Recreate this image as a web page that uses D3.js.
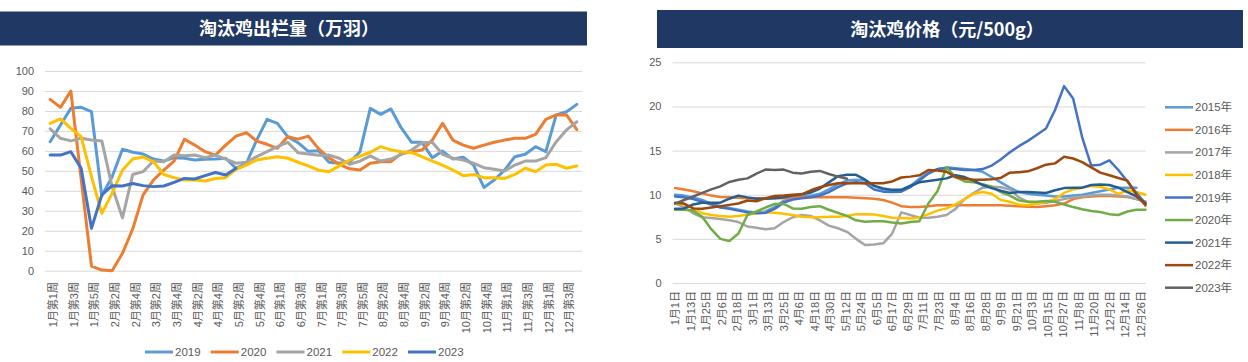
<!DOCTYPE html>
<html><head><meta charset="utf-8">
<script src="https://cdn.jsdelivr.net/npm/d3@7"></script>
<style>
html,body{margin:0;padding:0;background:#fff;}
svg{display:block;font-family:"Liberation Sans","Noto Sans CJK SC",sans-serif;}
</style></head><body>
<svg id="c" width="1248" height="362"></svg>
<script>
// ---------- Left chart: 淘汰鸡出栏量（万羽） ----------
const weekCategories = [
 "1月第1周","1月第2周","1月第3周","1月第4周","1月第5周",
 "2月第1周","2月第2周","2月第3周","2月第4周",
 "3月第1周","3月第2周","3月第3周","3月第4周",
 "4月第1周","4月第2周","4月第3周","4月第4周",
 "5月第1周","5月第2周","5月第3周","5月第4周","5月第5周",
 "6月第1周","6月第2周","6月第3周","6月第4周",
 "7月第1周","7月第2周","7月第3周","7月第4周","7月第5周",
 "8月第1周","8月第2周","8月第3周","8月第4周",
 "9月第1周","9月第2周","9月第3周","9月第4周",
 "10月第1周","10月第2周","10月第3周","10月第4周","10月第5周",
 "11月第1周","11月第2周","11月第3周","11月第4周",
 "12月第1周","12月第2周","12月第3周","12月第4周"
];
const outYears = ["2019","2020","2021","2022","2023"];
const out2019 = [64.6,73,81.3,81.8,79.6,37.5,47,60.8,59.3,58.4,55.9,54.9,56.6,56.3,55.4,55.8,55.9,56.3,51.2,53.8,65.4,75.8,73.8,67.1,64.1,59.8,60.1,54.3,53.8,54.3,59.6,81.3,78.3,81,71.5,64.3,64.3,56.6,59.9,55.9,56.8,52.9,41.7,45.4,50.4,57.1,58.3,62.1,59.6,78,79.6,83.3];
const out2020 = [85.8,81.8,90,46,2.3,0.3,0,8.7,21,38,45.4,50.4,54.9,65.8,62.9,59.6,57.9,62.9,67.4,69.1,64.9,63.3,61.3,67.1,65.9,67.4,61,56.5,53.3,51,50.4,53.8,54.6,54.6,58.6,59.6,60.4,65.4,73.8,65.4,62.9,61.3,62.9,64.3,65.4,66.3,66.3,68.3,75.8,78,78,70.7];
const out2021 = [71,66.3,65,66.3,65.4,65,42,26.5,48.2,49.6,54.9,54.6,57.9,57.6,57.9,56.6,57.9,55.9,53.8,54.3,57.1,59.6,62.1,64.3,59.1,58.4,57.8,57.9,56.3,53.3,54.9,57.5,54.9,55.9,58.3,60.4,64.1,64.3,58.3,56.3,55.4,53.8,51.6,50.8,49.9,52.9,54.9,54.9,56.6,64.6,70.5,74.6];
const out2022 = [73.8,76,71.3,67.1,47.1,28.7,38.7,50.4,55.9,56.9,54.6,48.2,46.6,45.4,45.4,44.9,46.2,46.6,50.8,52.9,55.4,56.3,57.1,56.3,54.3,52.5,50.3,49.6,52.5,55.4,57.4,59.3,62.1,60.5,59.6,59.1,57.1,54.9,52.9,50.4,47.6,48.2,46.6,46.6,46.2,48.2,51.3,49.6,52.9,53.3,51.3,52.4];
const out2023 = [57.9,57.9,59.6,51.3,21.2,37.9,42.6,42.4,43.7,42.6,42.1,42.4,44.2,46.2,45.9,47.6,49.2,47.9,51.3];
const outTicks = [0,10,20,30,40,50,60,70,80,90,100];
const outColors = ["#5B9BD5","#ED7D31","#A5A5A5","#FFC000","#4472C4"];

// ---------- Right chart: 淘汰鸡价格（元/500g） ----------
const priceTickLabels = ["1月1日","1月13日","1月25日","2月6日","2月18日","3月1日","3月13日","3月25日","4月6日","4月18日","4月30日","5月12日","5月24日","6月5日","6月17日","6月29日","7月11日","7月23日","8月4日","8月16日","8月28日","9月9日","9月21日","10月3日","10月15日","10月27日","11月8日","11月20日","12月2日","12月14日","12月26日"];
const priceDates = ["2020-01-03","2020-01-10","2020-01-17","2020-01-24","2020-01-31","2020-02-07","2020-02-14","2020-02-21","2020-02-28","2020-03-06","2020-03-13","2020-03-20","2020-03-27","2020-04-03","2020-04-10","2020-04-17","2020-04-24","2020-05-01","2020-05-08","2020-05-15","2020-05-22","2020-05-29","2020-06-05","2020-06-12","2020-06-19","2020-06-26","2020-07-03","2020-07-10","2020-07-17","2020-07-24","2020-07-31","2020-08-07","2020-08-14","2020-08-21","2020-08-28","2020-09-04","2020-09-11","2020-09-18","2020-09-25","2020-10-02","2020-10-09","2020-10-16","2020-10-23","2020-10-30","2020-11-06","2020-11-13","2020-11-20","2020-11-27","2020-12-04","2020-12-11","2020-12-18","2020-12-25","2021-01-01"];
const priceYears = ["2015年","2016年","2017年","2018年","2019年","2020年","2021年","2022年","2023年"];
const price2015 = [10.0,9.9,9.7,9.4,9.0,8.7,8.5,8.3,8.1,8.0,8.1,8.6,9.3,9.6,9.8,9.9,10.1,10.6,11.2,11.6,11.7,11.6,11.0,10.6,10.5,10.5,11.0,11.8,12.5,12.9,13.1,13.0,12.9,12.8,12.6,12.0,11.4,10.8,10.3,10.1,10.0,9.9,9.8,9.8,9.9,10.0,10.2,10.4,10.6,10.8,10.8,10.8];
const price2016 = [10.75,10.6,10.4,10.15,9.9,9.75,9.7,9.65,9.6,9.6,9.6,9.6,9.6,9.7,9.7,9.7,9.7,9.7,9.7,9.7,9.65,9.6,9.55,9.4,9.1,8.7,8.6,8.6,8.7,8.8,8.8,8.8,8.8,8.8,8.8,8.8,8.8,8.75,8.7,8.65,8.6,8.7,8.8,9.0,9.5,9.7,9.8,9.85,9.85,9.8,9.75,9.5,9.2];
const price2017 = [9.0,8.6,7.9,7.45,7.35,7.25,7.1,6.9,6.4,6.25,6.1,6.2,6.9,7.45,7.7,7.6,7.1,6.5,6.2,5.8,5.0,4.3,4.35,4.5,5.6,8.0,7.7,7.4,7.4,7.5,7.7,8.4,9.5,10.2,10.8,10.9,10.85,10.6,9.7,9.2,9.0,9.1,9.3,9.5,9.7,9.8,9.9,10.0,10.0,9.9,9.8,9.5,9.2];
const price2018 = [9.0,8.9,8.5,7.9,7.7,7.6,7.5,7.6,7.75,7.9,8.0,7.95,7.85,7.7,7.5,7.45,7.45,7.5,7.5,7.6,7.8,7.8,7.75,7.6,7.4,7.35,7.3,7.4,7.8,8.2,8.45,8.9,9.5,10.1,10.3,10.1,9.4,9.2,8.9,8.8,9.0,9.2,9.5,10.2,10.6,10.8,11.0,10.9,10.6,10.1,10.5,10.3,10.0];
const price2019 = [9.8,9.7,9.5,9.2,8.9,8.55,8.4,8.2,8.0,7.9,7.95,8.4,9.1,9.45,9.6,9.7,9.9,10.3,10.85,11.3,11.4,11.3,10.6,10.35,10.3,10.35,10.85,11.6,12.4,12.9,13.0,12.9,12.8,12.8,12.9,13.3,14.0,14.8,15.5,16.1,16.8,17.5,19.6,22.3,20.9,16.5,13.3,13.4,13.9,12.8,11.5,10.2,9.0];
const price2020 = [8.3,8.3,8.2,7.5,6.1,5.0,4.75,5.6,7.7,8.1,8.55,8.95,8.95,8.45,8.4,8.6,8.7,8.3,7.95,7.6,7.1,6.95,7.0,7.0,6.85,6.75,6.9,7.0,9.0,10.4,13.1,12.0,11.5,11.4,11.2,10.9,10.3,9.9,9.35,9.2,9.2,9.3,9.2,8.9,8.6,8.35,8.15,8.05,7.8,7.7,8.1,8.3,8.3];
const price2021 = [8.4,8.45,8.9,9.1,9.1,9.1,9.55,9.9,9.7,9.55,9.55,9.6,9.7,9.9,10.05,10.25,10.7,11.4,12.1,12.25,12.25,11.7,11.0,10.7,10.55,10.55,11.0,11.4,11.55,11.7,11.85,12.2,12.0,11.6,11.1,10.75,10.45,10.2,10.3,10.3,10.25,10.2,10.5,10.75,10.8,10.8,11.1,11.15,11.1,10.8,10.3,9.8,9.0];
const price2022 = [9.1,9.0,8.45,8.4,8.55,8.7,8.85,9.0,9.35,9.25,9.6,9.85,9.9,10.0,10.05,10.5,10.85,11.1,11.3,11.3,11.3,11.3,11.3,11.3,11.5,11.95,12.05,12.2,12.8,12.75,12.6,12.0,11.8,11.7,11.7,11.75,11.9,12.5,12.55,12.65,13.0,13.4,13.55,14.3,14.1,13.7,13.1,12.5,12.2,11.9,11.6,10.0,8.8];
const price2023 = [9.0,9.4,9.8,10.2,10.6,10.95,11.45,11.7,11.85,12.4,12.85,12.8,12.85,12.5,12.4,12.6,12.7,12.35,12.05,11.8];
const priceTicks = [0,5,10,15,20,25];
const priceColors = ["#5B9BD5","#ED7D31","#A5A5A5","#FFC000","#4472C4","#70AD47","#255E91","#9E480E","#636363"];

const svg = d3.select("#c");
const labelColor = "#595959", gridColor = "#D9D9D9", barColor = "#203864";

// ===== Left chart =====
const L = {x0:45, x1:582, yTop:71, yBot:270.7};
svg.append("rect").attr("x",0).attr("y",11.5).attr("width",587).attr("height",34).attr("fill",barColor);
svg.append("text").attr("x",289).attr("y",34.5).attr("text-anchor","middle")
  .attr("fill","#fff").attr("font-size",18).attr("font-weight","bold")
  .style("font-family","'Noto Sans CJK SC',sans-serif").text("淘汰鸡出栏量（万羽）");

const xL = d3.scalePoint().domain(weekCategories).range([L.x0, L.x1]).padding(0.5);
const yL = d3.scaleLinear().domain([0,100]).range([L.yBot, L.yTop]);

const gyL = svg.append("g").attr("transform",`translate(${L.x0},0)`)
  .call(d3.axisLeft(yL).tickValues(outTicks).tickSize(-(L.x1-L.x0)).tickPadding(11));
gyL.select(".domain").remove();
gyL.selectAll("line").attr("stroke",gridColor);
gyL.selectAll("text").attr("fill",labelColor).attr("font-size",11).style("font-family","'Liberation Sans',sans-serif");

svg.append("g").selectAll("text").data(weekCategories.filter((d,i)=>i%2===0)).join("text")
  .attr("transform",d=>`translate(${xL(d)+3},282) rotate(-90)`)
  .attr("dy","0.35em").attr("text-anchor","end")
  .attr("fill",labelColor).attr("font-size",11).text(d=>d);

const outSeries = [out2019,out2020,out2021,out2022,out2023];
const lineL = d3.line().x((d,i)=>xL(weekCategories[i])).y(d=>yL(d));
svg.append("g").selectAll("path").data(outSeries).join("path")
  .attr("d",d=>lineL(d)).attr("fill","none")
  .attr("stroke",(d,i)=>outColors[i]).attr("stroke-width",3)
  .attr("stroke-linejoin","round").attr("stroke-linecap","round");

const legL = svg.append("g").selectAll("g").data(outYears).join("g")
  .attr("transform",(d,i)=>`translate(${145+i*65.75},352)`);
legL.append("line").attr("x1",0).attr("x2",28).attr("stroke",(d,i)=>outColors[i]).attr("stroke-width",3);
legL.append("text").attr("x",30).attr("dy","0.35em").attr("fill",labelColor).attr("font-size",11.5).text(d=>d);

// ===== Right chart =====
const R = {x0:672.5, x1:1145.5, yTop:62.3, yBot:283};
svg.append("rect").attr("x",657).attr("y",10).attr("width",586).attr("height",38).attr("fill",barColor);
svg.append("text").attr("x",947).attr("y",35.5).attr("text-anchor","middle")
  .attr("fill","#fff").attr("font-size",18).attr("font-weight","bold")
  .style("font-family","'Noto Sans CJK SC',sans-serif").text("淘汰鸡价格（元/500g）");

const parseDate = d3.timeParse("%Y-%m-%d");
const xR = d3.scaleTime().domain([new Date(2020,0,1), new Date(2021,0,1)]).range([R.x0, R.x1]);
const yR = d3.scaleLinear().domain([0,25]).range([R.yBot, R.yTop]);

const gyR = svg.append("g").attr("transform",`translate(${R.x0},0)`)
  .call(d3.axisLeft(yR).tickValues(priceTicks).tickSize(-(R.x1-R.x0)).tickPadding(11));
gyR.select(".domain").remove();
gyR.selectAll("line").attr("stroke",gridColor);
gyR.selectAll("text").attr("fill",labelColor).attr("font-size",11).style("font-family","'Liberation Sans',sans-serif");

function labelDate(s){ const m = s.match(/(\d+)月(\d+)日/); return new Date(2020, +m[1]-1, +m[2]); }
svg.append("g").selectAll("text").data(priceTickLabels).join("text")
  .attr("transform",d=>`translate(${xR(labelDate(d))+3},291) rotate(-90)`)
  .attr("dy","0.35em").attr("text-anchor","end")
  .attr("fill",labelColor).attr("font-size",11).text(d=>d);

const priceSeries = [price2015,price2016,price2017,price2018,price2019,price2020,price2021,price2022,price2023];
const dates = priceDates.map(parseDate);
const lineR = d3.line().x((d,i)=>xR(dates[i])).y(d=>yR(d));
svg.append("g").selectAll("path").data(priceSeries).join("path")
  .attr("d",d=>lineR(d)).attr("fill","none")
  .attr("stroke",(d,i)=>priceColors[i]).attr("stroke-width",2.5)
  .attr("stroke-linejoin","round").attr("stroke-linecap","round");

const legR = svg.append("g").selectAll("g").data(priceYears).join("g")
  .attr("transform",(d,i)=>`translate(1165,${107.3+i*22.55})`);
legR.append("line").attr("x1",0).attr("x2",28).attr("stroke",(d,i)=>priceColors[i]).attr("stroke-width",2.5);
legR.append("text").attr("x",30).attr("dy","0.35em").attr("fill",labelColor).attr("font-size",11.5).text(d=>d);
</script>
</body></html>
